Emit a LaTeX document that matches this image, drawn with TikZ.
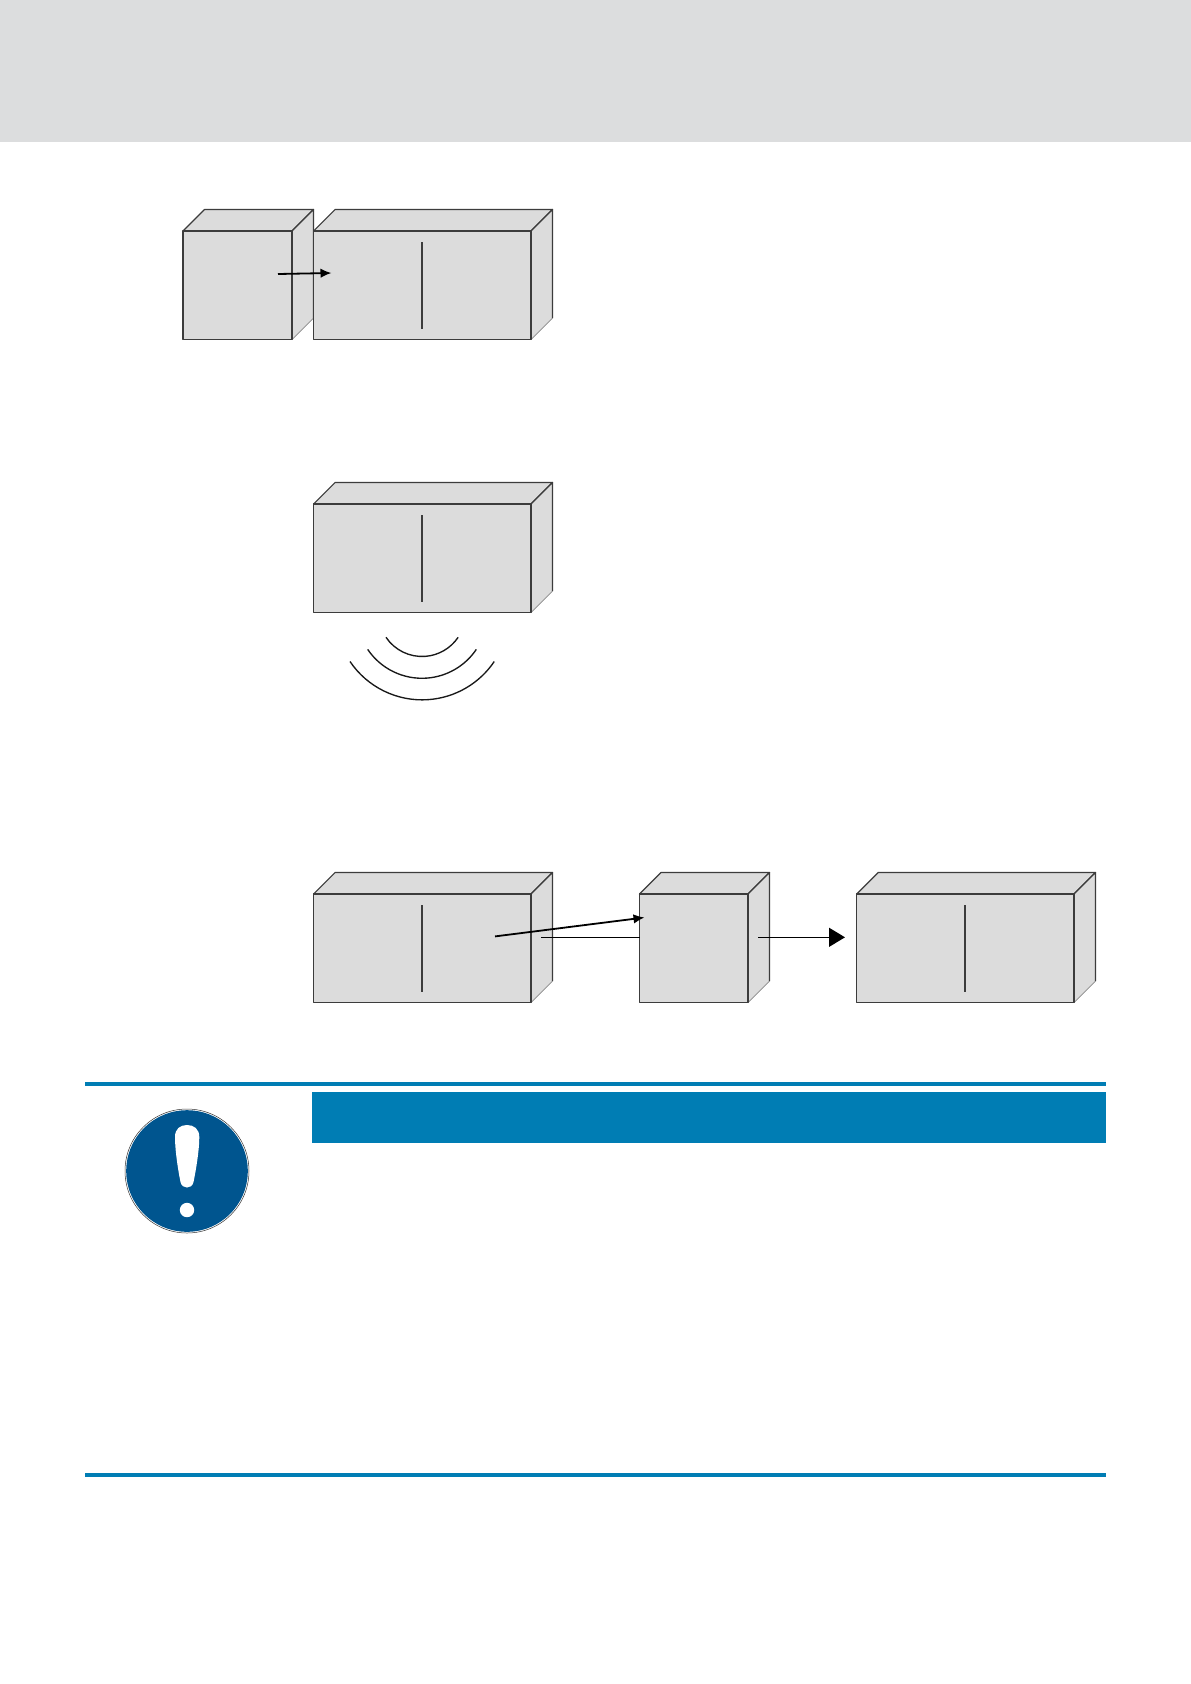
\documentclass[tikz,border=0pt]{standalone}
\usetikzlibrary{arrows.meta}
\definecolor{headgrey}{HTML}{DCDDDE}
\definecolor{boxgrey}{HTML}{DCDCDC}
\definecolor{boxline}{HTML}{3C3C3C}
\definecolor{barblue}{HTML}{007DB4}
\definecolor{signblue}{HTML}{00558F}
\tikzset{
  face/.style={fill=boxgrey,draw=boxline,line width=1.2pt,line join=round},
  divider/.style={draw=boxline,line width=1.1pt},
  wave/.style={draw=black!90,line width=1.35pt},
  smallarrow/.style={draw=black,line width=1.8pt,-{Latex[length=11pt,width=9.5pt]}},
  slimline/.style={draw=black,line width=1.3pt},
  bigarrow/.style={draw=black,line width=1.3pt,-{Triangle[length=16pt,width=19pt]}},
  rulebar/.style={fill=barblue,draw=none},
}
% #1 name, #2 left, #3 right, #4 top of the front face
\newcommand{\solidbox}[4]{%
  \coordinate (#1a) at (#2,#4);
  \coordinate (#1b) at (#3,#4);
  \coordinate (#1c) at (#3,#4+108.6);
  \coordinate (#1d) at (#2,#4+108.6);
  \coordinate (#1e) at (#2+21.5,#4-21.5);
  \coordinate (#1f) at (#3+21.5,#4-21.5);
  \coordinate (#1g) at (#3+21.5,#4+87.1);
  \fill[boxgrey] (#1a) -- (#1e) -- (#1f) -- (#1g) -- (#1c) -- (#1d) -- cycle;
  \draw[face] (#1a) -- (#1e) -- (#1f) -- (#1b) -- cycle;
  \draw[face] (#1b) -- (#1f) -- (#1g);
  \draw[draw=boxline!60,line width=0.7pt] (#1g) -- (#1c);
  \draw[face] (#1a) rectangle (#1c);
}
\newcommand{\boxdivider}[3]{%
  \coordinate (#1p) at (#2,#3+11);
  \coordinate (#1q) at (#2,#3+98);
  \draw[divider] (#1p) -- (#1q);
}
\begin{document}
\begin{tikzpicture}[x=1pt,y=-1pt]
\useasboundingbox (0,0) rectangle (1191,1684);
\fill[white] (0,0) rectangle (1191,1684);
\fill[headgrey] (0,0) rectangle (1191,142);

% first group
\solidbox{s}{183}{292}{231}
\solidbox{m}{313.6}{531}{231}
\boxdivider{m}{422}{231}
\coordinate (a1s) at (278,274);
\coordinate (a1e) at (331.5,273);
\draw[smallarrow] (a1s) -- (a1e);

% second group
\solidbox{w}{313.6}{531}{504}
\boxdivider{w}{422}{504}
\coordinate (w1) at (386,637.3);
\coordinate (w2) at (367.7,649.4);
\coordinate (w3) at (350,661.5);
\draw[wave] (w1) arc[start angle=214,end angle=326,radius=43.5pt];
\draw[wave] (w2) arc[start angle=214,end angle=326,radius=65.5pt];
\draw[wave] (w3) arc[start angle=214,end angle=326,radius=87pt];

% third group
\solidbox{l}{313.6}{531}{894}
\boxdivider{l}{422}{894}
\solidbox{k}{639.5}{748}{894}
\solidbox{r}{856.7}{1074}{894}
\boxdivider{r}{965}{894}
\coordinate (b1s) at (495,936.4);
\coordinate (b1e) at (644.5,917.5);
\draw[smallarrow] (b1s) -- (b1e);
\coordinate (b2s) at (541,937.3);
\coordinate (b2e) at (639.5,937.3);
\draw[slimline] (b2s) -- (b2e);
\coordinate (b3s) at (758,937.3);
\coordinate (b3e) at (845,937.3);
\draw[bigarrow] (b3s) -- (b3e);

% notice
\fill[rulebar] (85,1082.3) rectangle (1106,1086);
\fill[rulebar] (312,1092) rectangle (1106,1142.7);
\fill[rulebar] (85,1473) rectangle (1106,1476.5);
\draw[draw=black!80,line width=0.5pt,fill=white] (187,1171) circle[radius=62pt];
\fill[signblue] (187,1171) circle[radius=60.8pt];
\fill[white] (175,1137)
  .. controls (175,1129) and (180,1125) .. (187,1125)
  .. controls (194,1125) and (199.3,1129) .. (199.3,1137)
  .. controls (199.3,1150) and (196,1170) .. (193.5,1182)
  .. controls (192.5,1186) and (190,1187.5) .. (187,1187.5)
  .. controls (184,1187.5) and (181.5,1186) .. (180.5,1182)
  .. controls (178,1170) and (175,1150) .. (175,1137) -- cycle;
\fill[white] (187,1210) circle[radius=7.2pt];
\end{tikzpicture}
\end{document}
